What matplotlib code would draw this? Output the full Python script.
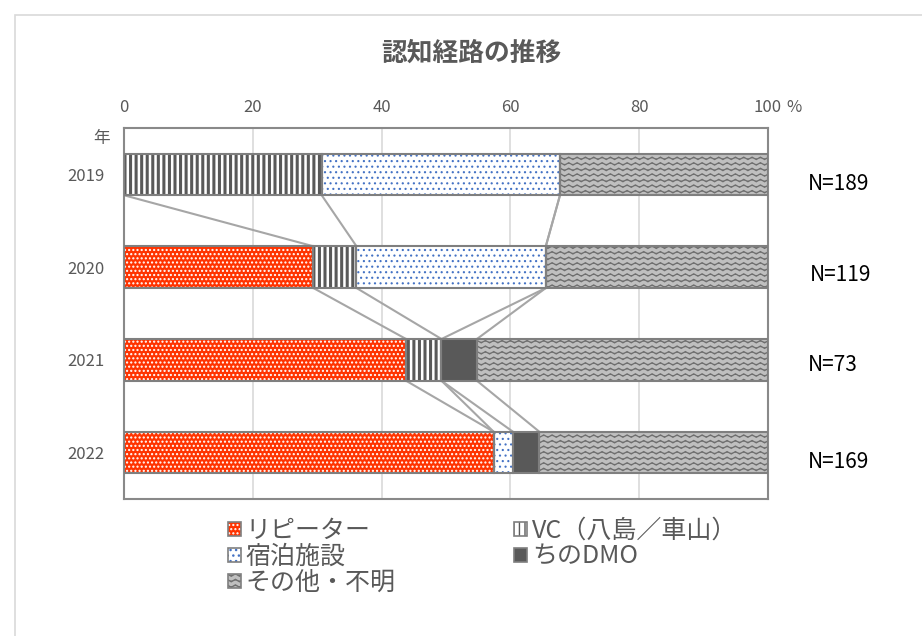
import warnings
import numpy as np
import matplotlib
matplotlib.use('Agg')
import matplotlib.pyplot as plt
from matplotlib import hatch as mhatch
from matplotlib.path import Path
from matplotlib.patches import Rectangle

warnings.filterwarnings('ignore')
plt.rcParams['font.family'] = ['Noto Sans CJK JP', 'DejaVu Sans']

# データ (%)
years = ['2019', '2020', '2021', '2022']
n_labels = ['N=189', 'N=119', 'N=73', 'N=169']
series_names = ['リピーター', 'VC（八島／車山）', '宿泊施設', 'ちのDMO', 'その他・不明']
repeater = [0.0, 29.4, 43.8, 57.4]
vc = [30.7, 6.7, 5.5, 0.0]
lodging = [37.0, 29.4, 0.0, 3.0]
dmo = [0.0, 0.0, 5.5, 4.1]
other = [32.3, 34.5, 45.2, 35.5]
xticks = [0, 20, 40, 60, 80, 100]


# 波線のハッチ（'~'）
class WaveHatch(mhatch.HatchPatternBase):
    nseg = 48

    def __init__(self, hatch, density):
        self.num_lines = int(hatch.count('~') * density)
        self.num_vertices = self.num_lines * (self.nseg + 1)

    def set_vertices_and_codes(self, vertices, codes):
        steps, stepsize = np.linspace(0.0, 1.0, self.num_lines, False, retstep=True)
        steps += stepsize / 2.
        xs = np.linspace(0.0, 1.0, self.nseg + 1)
        wave = 0.012 * np.sin(2 * np.pi * 12 * xs)
        n = self.nseg + 1
        for i, s in enumerate(steps):
            vertices[i * n:(i + 1) * n, 0] = xs
            vertices[i * n:(i + 1) * n, 1] = s + wave
            codes[i * n] = Path.MOVETO
            codes[i * n + 1:(i + 1) * n] = Path.LINETO


mhatch._hatch_types.append(WaveHatch)

W, H = 922, 636
fig = plt.figure(figsize=(W / 100, H / 100), dpi=100)

# 外枠
fig.patches.append(Rectangle((15 / W, -0.05), 1.1, 1 - 15 / H + 0.05,
                             transform=fig.transFigure, fill=False,
                             edgecolor='#D9D9D9', linewidth=1.2))

ax = fig.add_axes([124 / W, 1 - 499 / H, (768 - 124) / W, (499 - 128) / H])

y = np.arange(len(years))
bh = 0.45
edge = '#7F7F7F'
# (facecolor, hatch, hatchcolor, hatch lw)
styles = [
    ('#FF3300', '....', 'white', 1.0),
    ('white', '|||', '#595959', 2.2),
    ('white', '...', '#4472C4', 0.8),
    ('#595959', None, '#595959', 1.0),
    ('#BFBFBF', '~~~', '#6E6E6E', 0.9),
]
data = [repeater, vc, lodging, dmo, other]

left = np.zeros(len(years))
handles = []
for vals, (fc, hatch, hc, hlw), name in zip(data, styles, series_names):
    vals = np.array(vals)
    with plt.rc_context({'hatch.linewidth': hlw}):
        ax.barh(y, vals, left=left, height=bh, color=fc, hatch=hatch,
                edgecolor=hc, linewidth=0, zorder=2)
        h1 = Rectangle((0, 0), 1, 1, facecolor=fc, hatch=hatch, edgecolor=hc, linewidth=0)
    h2 = Rectangle((0, 0), 1, 1, facecolor='none', edgecolor=edge, linewidth=1.2)
    ax.barh(y, vals, left=left, height=bh, facecolor='none',
            edgecolor=edge, linewidth=1.5, zorder=3)
    handles.append((h1, h2))
    left = left + vals

# 区分線
cum = np.cumsum(np.array(data[:-1]), axis=0)
for i in range(len(years) - 1):
    for k in range(cum.shape[0]):
        ax.plot([cum[k, i], cum[k, i + 1]], [i + bh / 2, i + 1 - bh / 2],
                color='#A6A6A6', linewidth=1.5, zorder=1.5)

ax.set_xlim(0, 100)
ax.set_ylim(len(years) - 0.5, -0.5)
ax.set_yticks(y)
ax.set_yticklabels(years, fontsize=12, color='#595959')
ax.set_xticks(xticks)
ax.set_xticklabels([str(v) for v in xticks], fontsize=12, color='#595959')
ax.xaxis.tick_top()
ax.tick_params(axis='both', length=0)
ax.tick_params(axis='x', pad=9)
ax.tick_params(axis='y', pad=14)
ax.grid(axis='x', color='#D9D9D9', linewidth=1.2, zorder=0)
ax.set_axisbelow(True)
for s in ax.spines.values():
    s.set_color('#898989')
    s.set_linewidth(1.5)

fig.text(471 / W, 1 - 53 / H, '認知経路の推移', ha='center', va='center',
         fontsize=18.5, fontweight='bold', color='#595959')
fig.text(786 / W, 1 - 107 / H, '%', ha='left', va='center', fontsize=12, color='#595959')
fig.text(102 / W, 1 - 138 / H, '年', ha='center', va='center', fontsize=12, color='#595959')

n_pos = [(808, 184), (810, 275), (808, 365), (808, 462)]
for (px, py), t in zip(n_pos, n_labels):
    fig.text(px / W, 1 - py / H, t, ha='left', va='center', fontsize=15, color='black')

order = [0, 2, 4, 1, 3]
fig.legend([handles[i] for i in order], [series_names[i] for i in order],
           loc='upper left', bbox_to_anchor=(228 / W, 1 - 518 / H), ncol=2,
           frameon=False, fontsize=18, handlelength=0.5, handleheight=0.5,
           handletextpad=0.2, columnspacing=4.75, labelspacing=0.0,
           borderpad=0, borderaxespad=0, labelcolor='#595959')

fig.savefig('out.png', dpi=100)
